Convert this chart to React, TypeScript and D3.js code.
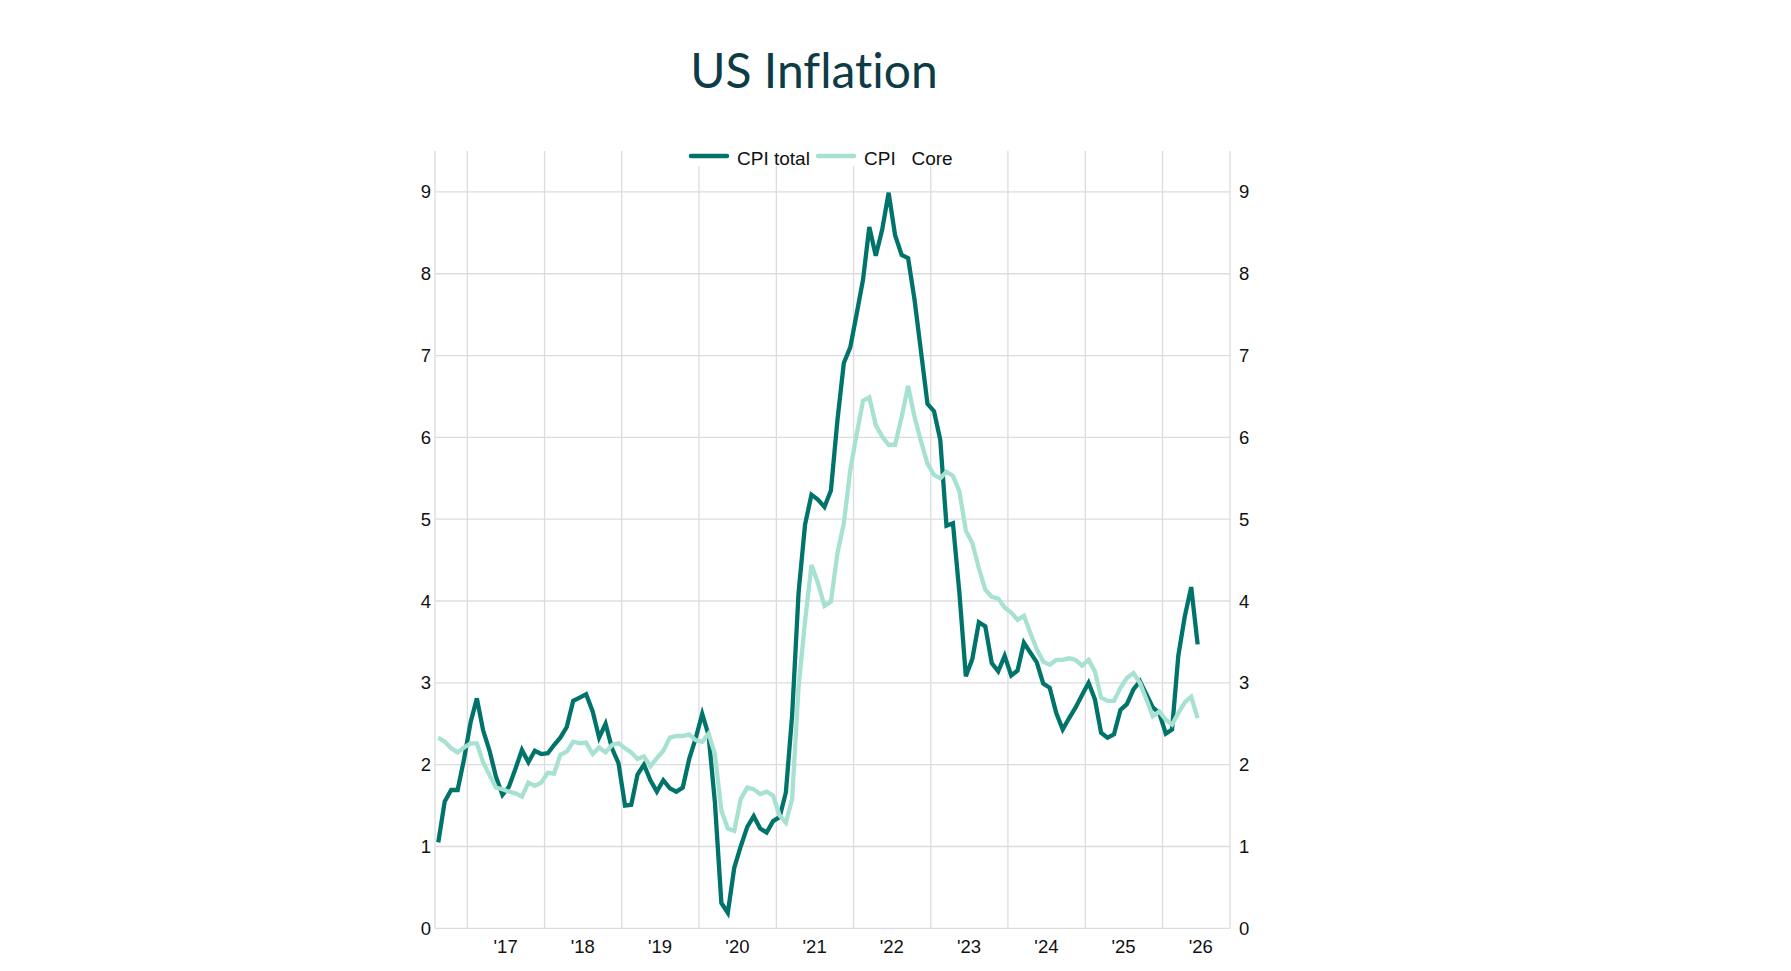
import * as d3 from "d3";
import React from "react";

// monthly YoY inflation, Aug 2016 .. Jun 2026
const startMonth = new Date(2016, 7, 1);

const cpiTotal = [
  1.05, 1.55, 1.69, 1.69, 2.07, // 2016
  2.52, 2.81, 2.42, 2.17, 1.85, 1.63, 1.73, 1.95, 2.18, 2.03, 2.17, 2.13, // 2017
  2.14, 2.24, 2.33, 2.46, 2.78, 2.82, 2.86, 2.65, 2.33, 2.5, 2.2, 2.02, // 2018
  1.5, 1.51, 1.88, 2.0, 1.81, 1.67, 1.81, 1.71, 1.67, 1.72, 2.07, 2.32, // 2019
  2.62, 2.36, 1.54, 0.31, 0.19, 0.74, 1.0, 1.24, 1.37, 1.22, 1.17, 1.31, // 2020
  1.36, 1.66, 2.6, 4.1, 4.93, 5.3, 5.24, 5.15, 5.35, 6.2, 6.91, 7.1, // 2021
  7.52, 7.93, 8.57, 8.22, 8.54, 8.99, 8.47, 8.23, 8.19, 7.68, 7.05, 6.41, // 2022
  6.32, 5.97, 4.92, 4.95, 4.1, 3.08, 3.29, 3.74, 3.69, 3.24, 3.14, 3.33, // 2023
  3.09, 3.15, 3.49, 3.37, 3.25, 2.99, 2.94, 2.63, 2.43, 2.57, 2.7, 2.85, // 2024
  3.0, 2.8, 2.39, 2.33, 2.37, 2.67, 2.74, 2.92, 3.02, 2.86, 2.7, 2.63, // 2025
  2.38, 2.43, 3.33, 3.81, 4.17, 3.47, // 2026
];

const cpiCore = [
  2.33, 2.28, 2.2, 2.15, 2.21, // 2016
  2.26, 2.26, 2.03, 1.87, 1.72, 1.7, 1.67, 1.65, 1.61, 1.78, 1.74, 1.78, // 2017
  1.9, 1.89, 2.12, 2.16, 2.28, 2.26, 2.27, 2.13, 2.21, 2.15, 2.24, 2.26, // 2018
  2.2, 2.15, 2.07, 2.1, 1.98, 2.08, 2.17, 2.33, 2.35, 2.35, 2.37, 2.3, // 2019
  2.28, 2.38, 2.13, 1.44, 1.22, 1.19, 1.58, 1.72, 1.7, 1.64, 1.67, 1.62, // 2020
  1.38, 1.29, 1.58, 2.95, 3.75, 4.44, 4.22, 3.94, 3.99, 4.58, 4.95, 5.6, // 2021
  6.05, 6.45, 6.49, 6.15, 6.01, 5.91, 5.91, 6.25, 6.63, 6.25, 5.95, 5.68, // 2022
  5.54, 5.5, 5.58, 5.53, 5.34, 4.86, 4.71, 4.4, 4.14, 4.05, 4.03, 3.92, // 2023
  3.86, 3.77, 3.82, 3.61, 3.41, 3.26, 3.22, 3.28, 3.28, 3.3, 3.28, 3.21, // 2024
  3.28, 3.14, 2.82, 2.78, 2.78, 2.94, 3.06, 3.12, 3.0, 2.8, 2.59, 2.65, // 2025
  2.55, 2.49, 2.63, 2.76, 2.83, 2.57, // 2026
];

const years = [2017, 2018, 2019, 2020, 2021, 2022, 2023, 2024, 2025, 2026];
const yTicks = [0, 1, 2, 3, 4, 5, 6, 7, 8, 9];
const seriesNames = ["CPI total", "CPI   Core"];
const colors = ["#00736b", "#a6e1d1"];

const W = 1791;
const H = 971;
const left = 435;
const right = 1230;
const top = 151;
const bottom = 928.3;

const tickFont = "'Liberation Sans', Arial, sans-serif";

const App: React.FC = () => {
  const x = d3
    .scaleTime()
    .domain([startMonth, new Date(2026, 10, 16)])
    .range([left, right]);
  const y = d3.scaleLinear().domain([0, 9.5]).range([bottom, top]);

  const midX = (i: number) => {
    const m = d3.timeMonth.offset(startMonth, i);
    return (x(m) + x(d3.timeMonth.offset(m, 1))) / 2;
  };

  const line = d3
    .line<number>()
    .x((_, i) => midX(i))
    .y((d) => y(d));

  const fmt = d3.timeFormat("'%y");

  return (
    <svg
      width={W}
      height={H}
      style={{ position: "absolute", left: 0, top: 0, background: "#fff" }}
    >
      <text
        x={814}
        y={88}
        textAnchor="middle"
        fontFamily="Lato, 'Open Sans', sans-serif"
        fontSize={48}
        fill="#0d3c47"
        style={{ fontVariantLigatures: "none" }}
      >
        US Inflation
      </text>

      {/* grid */}
      <g stroke="#dcdcdc" strokeWidth={1.3}>
        {yTicks.map((t) => (
          <line key={"h" + t} x1={left} x2={right} y1={y(t)} y2={y(t)} />
        ))}
        {years.map((yr) => {
          const gx = x(new Date(yr, 0, 1));
          return <line key={"v" + yr} x1={gx} x2={gx} y1={top} y2={bottom} />;
        })}
        <line x1={left} x2={left} y1={top} y2={bottom} />
        <line x1={right} x2={right} y1={top} y2={bottom} />
      </g>

      {/* axis labels */}
      <g fontFamily={tickFont} fontSize={18.5} fill="#111">
        {yTicks.map((t) => (
          <React.Fragment key={"yl" + t}>
            <text x={left - 4} y={y(t)} textAnchor="end" dominantBaseline="central">
              {t}
            </text>
            <text x={right + 9} y={y(t)} textAnchor="start" dominantBaseline="central">
              {t}
            </text>
          </React.Fragment>
        ))}
        {years.map((yr) => (
          <text
            key={"xl" + yr}
            x={x(new Date(yr, 6, 1))}
            y={946}
            textAnchor="middle"
            dominantBaseline="central"
          >
            {fmt(new Date(yr, 0, 1))}
          </text>
        ))}
      </g>

      {/* series */}
      <path d={line(cpiTotal)!} fill="none" stroke={colors[0]} strokeWidth={4.3} />
      <path d={line(cpiCore)!} fill="none" stroke={colors[1]} strokeWidth={4.3} />

      {/* legend */}
      <rect x={682} y={138} width={285} height={28} fill="#fff" />
      <g fontFamily={tickFont} fontSize={19} fill="#111">
        {seriesNames.map((name, i) => {
          const lx = i === 0 ? 691 : 818;
          return (
            <g key={name}>
              <line
                x1={lx}
                x2={lx + 36}
                y1={156}
                y2={156}
                stroke={colors[i]}
                strokeWidth={4.5}
                strokeLinecap="round"
              />
              <text x={lx + 46} y={164.5} style={{ whiteSpace: "pre" }}>
                {name}
              </text>
            </g>
          );
        })}
      </g>
    </svg>
  );
};

export default App;
